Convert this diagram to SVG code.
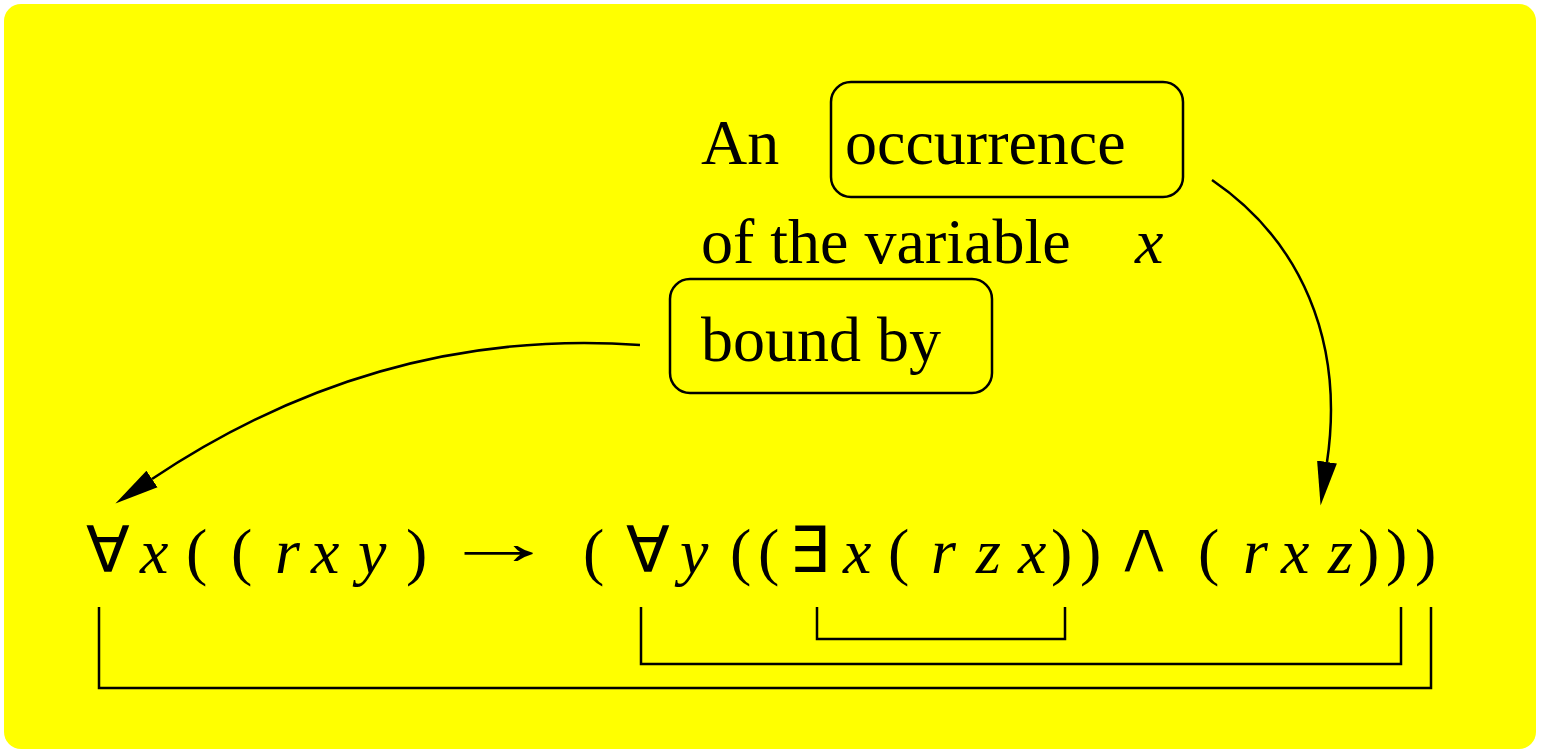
<svg xmlns="http://www.w3.org/2000/svg" width="1544" height="751" viewBox="0 0 1544 751">
<style>
.t{font-family:"Liberation Serif","Times New Roman",serif;font-size:64px;fill:#000}
.i{font-family:"Liberation Serif","Times New Roman",serif;font-style:italic;font-size:64px;fill:#000}
.s{font-family:"DejaVu Sans",sans-serif;font-size:64px;fill:#000}
.w{font-family:"DejaVu Sans",sans-serif;font-size:64px;fill:#000;stroke:#ffff00;stroke-width:2.6}
.box{fill:none;stroke:#000;stroke-width:2.5}
.ln{fill:none;stroke:#000;stroke-width:2.5}
</style>
<defs>
<marker id="ah" viewBox="0 0 44 30" refX="0" refY="15" markerWidth="44" markerHeight="30" markerUnits="userSpaceOnUse" orient="auto">
<path d="M0,5 L44,15 L0,25 Z" fill="#000"/>
</marker>
</defs>
<rect x="4" y="4" width="1532" height="745" rx="17" ry="17" fill="#ffff00"/>
<g id="label-an"><text class="t" x="701" y="164">An</text></g>
<g id="node-occurrence">
<rect class="box" x="831" y="82" width="352" height="115" rx="20" ry="20"/>
<text class="t" x="845" y="164">occurrence</text>
</g>
<g id="label-variable">
<text class="t" x="701" y="263">of the variable</text>
<text class="i" x="1135" y="263">x</text>
</g>
<g id="node-boundby">
<rect class="box" x="670" y="279" width="322" height="114" rx="20" ry="20"/>
<text class="t" x="701" y="361">bound by</text>
</g>
<g id="formula">
<text class="s" x="86" y="572">∀</text>
<text class="i" x="140" y="573">x</text>
<text class="t" x="186" y="573">(</text>
<text class="t" x="231" y="573">(</text>
<text class="i" x="275" y="573">r</text>
<text class="i" x="311" y="573">x</text>
<text class="i" x="358" y="573">y</text>
<text class="t" x="406" y="573">)</text>
<text class="t" transform="translate(441,564) scale(1.8,1)" x="0" y="0">→</text>
<text class="t" x="583" y="573">(</text>
<text class="s" x="626" y="572">∀</text>
<text class="i" x="680" y="573">y</text>
<text class="t" x="730" y="573">(</text>
<text class="t" x="758" y="573">(</text>
<text class="s" x="789" y="572">∃</text>
<text class="i" x="843" y="573">x</text>
<text class="t" x="888" y="573">(</text>
<text class="i" x="931" y="573">r</text>
<text class="i" x="976" y="573">z</text>
<text class="i" x="1018" y="573">x</text>
<text class="t" x="1051" y="573">)</text>
<text class="t" x="1080" y="573">)</text>
<text class="w" transform="translate(1110,573) scale(1.45,1.2)" x="0" y="0">∧</text>
<text class="t" x="1198" y="573">(</text>
<text class="i" x="1243" y="573">r</text>
<text class="i" x="1281" y="573">x</text>
<text class="i" x="1328" y="573">z</text>
<text class="t" x="1358" y="573">)</text>
<text class="t" x="1386" y="573">)</text>
<text class="t" x="1415" y="573">)</text>
</g>
<g id="connectors">
<path class="ln" d="M640,345 C500,335 330,360 152,479" marker-end="url(#ah)"/>
<path class="ln" d="M1212,180 C1300,240 1345,340 1327,462" marker-end="url(#ah)"/>
<path class="ln" d="M99,607 V688 H1431 V607"/>
<path class="ln" d="M641,607 V664 H1401 V607"/>
<path class="ln" d="M817,607 V639 H1065 V607"/>
</g>
</svg>
